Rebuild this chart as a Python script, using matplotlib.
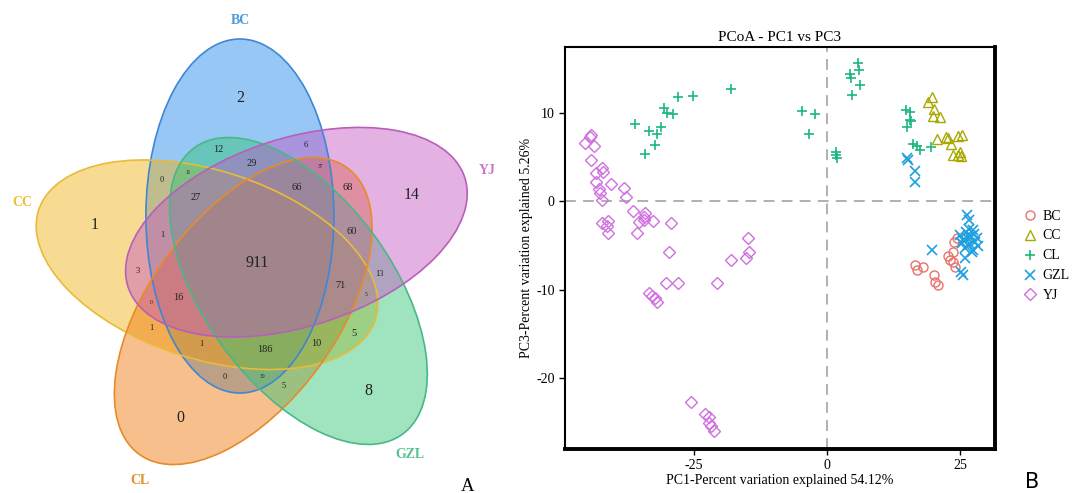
import numpy as np
import matplotlib
matplotlib.use("Agg")
import matplotlib.pyplot as plt
from matplotlib.patches import Ellipse

plt.rcParams["axes.unicode_minus"] = False

# ---------------- Venn data ----------------
set_names = ["BC", "YJ", "GZL", "CL", "CC"]
set_fill = ["#1987EB", "#C355C3", "#2DC373", "#ED7300", "#F1B111"]
set_edge = ["#3F86D6", "#B860B8", "#48B888", "#E88A2A", "#E8BB3A"]
label_color = ["#4A9AD8", "#C878C8", "#58C090", "#E0902A", "#F0C030"]
draw_order = [0, 4, 3, 2, 1]   # BC, CC, CL, GZL, YJ

# region counts (value, size-class)
venn_values = ["2", "12", "6", "29", "37", "0", "66", "68", "11", "27", "1", "14",
               "1", "60", "911", "3", "13", "71", "16", "0", "5", "1", "5", "1",
               "186", "10", "0", "30", "5", "8", "0"]
venn_size = ["L", "m", "s", "m", "t", "s", "m", "m", "t", "m", "L", "L",
             "s", "m", "L", "s", "s", "m", "m", "t", "t", "s", "m", "s",
             "m", "m", "s", "t", "s", "L", "L"]
venn_pos = [(240, 98), (218, 150), (306, 145), (252, 163), (320, 167), (162, 180),
            (297, 187), (348, 188), (188, 172), (196, 198), (95, 225), (412, 195),
            (162, 235), (352, 231), (257, 263), (138, 271), (380, 274), (341, 285),
            (178, 298), (151, 303), (366, 294), (151, 328), (354, 333), (201, 344),
            (265, 350), (316, 344), (225, 377), (263, 377), (284, 386), (368, 391),
            (180, 418)]

# ---------------- PCoA data ----------------
groups = ["BC", "CC", "CL", "GZL", "YJ"]
bc_x = [24.4, 23.9, 23.7, 22.8, 23.1, 23.7, 24.1, 16.5, 16.9, 18.1, 20.2, 20.4, 20.8]
bc_y = [-4.2, -4.6, -5.7, -6.2, -6.7, -6.9, -7.4, -7.2, -7.8, -7.4, -8.4, -9.1, -9.5]
cc_x = [19.8, 19.0, 20.1, 19.9, 21.2, 20.7, 22.3, 22.8, 23.3, 24.7, 25.4, 23.7, 24.7, 25.3, 25.0]
cc_y = [11.7, 11.2, 10.4, 9.6, 9.5, 7.0, 7.2, 7.1, 6.4, 7.3, 7.5, 5.2, 5.2, 5.1, 5.5]
cl_x = [-36.1, -34.2, -33.4, -32.3, -32.0, -31.1, -30.6, -30.1, -28.9, -28.0, -25.1, -18.1,
        -4.6, -2.3, -3.4, 1.8, 1.9, 1.7, 4.3, 5.9, 6.1, 4.6, 6.3, 4.8,
        14.8, 15.6, 15.7, 15.9, 15.0, 16.2, 17.5, 19.5, 16.9]
cl_y = [8.7, 5.3, 7.9, 6.3, 7.6, 8.4, 10.5, 10.0, 9.8, 11.8, 11.9, 12.7,
        10.2, 9.8, 7.6, 5.5, 4.9, 5.2, 14.4, 15.6, 14.8, 13.9, 13.1, 12.0,
        10.3, 10.1, 9.2, 9.0, 8.4, 6.4, 5.8, 6.1, 6.2]
gzl_x = [15.0, 15.3, 16.5, 16.5, 26.3, 26.7, 26.9, 25.0, 25.6, 26.1, 26.5, 27.1, 27.4,
         27.8, 28.2, 25.9, 27.3, 28.4, 25.4, 26.7, 27.6, 26.3, 26.9, 25.9, 25.3, 25.6,
         19.7, 27.5]
gzl_y = [4.9, 4.6, 3.4, 2.1, -1.6, -2.1, -4.2, -3.8, -4.4, -3.5, -5.0, -4.0, -3.3,
         -4.6, -4.2, -5.3, -5.8, -5.1, -4.7, -3.1, -3.7, -4.2, -4.9, -6.4, -8.0, -8.4,
         -5.5, -5.5]
yj_x = [-45.5, -44.4, -44.5, -43.8, -44.4, -43.3, -42.2, -42.0, -43.4, -42.9, -42.7, -42.3,
        -40.5, -38.1, -37.8, -42.3, -41.1, -41.3, -41.1, -36.4, -35.7, -35.3, -34.4, -34.4,
        -34.2, -32.7, -29.3, -29.6, -18.1, -15.1, -14.6, -14.8, -30.3, -28.0, -20.7,
        -33.4, -32.8, -32.3, -32.0, -25.6, -22.9, -22.2, -22.1, -21.8, -21.2]
yj_y = [6.6, 7.5, 7.2, 6.2, 4.6, 3.2, 3.7, 3.3, 2.1, 1.4, 0.9, 0.1,
        1.9, 1.5, 0.5, -2.5, -2.3, -2.8, -3.6, -1.1, -3.6, -2.4, -1.8, -2.1,
        -1.4, -2.3, -2.5, -5.7, -6.6, -6.4, -5.8, -4.2, -9.2, -9.3, -9.3,
        -10.4, -10.7, -10.9, -11.4, -22.7, -24.1, -24.4, -25.1, -25.4, -26.0]
x_ticks = [-25, 0, 25]
y_ticks = [-20, -10, 0, 10]

group_x = [bc_x, cc_x, cl_x, gzl_x, yj_x]
group_y = [bc_y, cc_y, cl_y, gzl_y, yj_y]
group_color = ["#E8736C", "#A8A800", "#1DB880", "#1EA0E0", "#D070E0"]
group_marker = ["o", "^", "+", "x", "D"]
group_ms = [6.5, 7.5, 7.5, 7.5, 6.3]

serif = "Liberation Serif"

W, H = 1075, 493
fig = plt.figure(figsize=(W / 100, H / 100), dpi=100)

# ---------------- Venn panel ----------------
axv = fig.add_axes([0, 0, 520 / W, 1])
axv.set_xlim(0, 520)
axv.set_ylim(493, 0)
axv.axis("off")

cx0, cy0, rad = 257, 263, 50
a2, b2 = 354, 188


def ell_geom(k):
    alpha_dir = np.deg2rad(110 - 72 * k)
    cx = cx0 + rad * np.cos(alpha_dir)
    cy = cy0 - rad * np.sin(alpha_dir)
    phi = 90 - 72 * k
    return (cx, cy), -phi


for k in draw_order:
    c, ang = ell_geom(k)
    axv.add_patch(Ellipse(c, a2, b2, angle=ang, facecolor=set_fill[k], alpha=0.45,
                          edgecolor="none", zorder=1))
for k in draw_order:
    c, ang = ell_geom(k)
    axv.add_patch(Ellipse(c, a2, b2, angle=ang, facecolor="none",
                          edgecolor=set_edge[k], lw=1.2, zorder=2))

label_pos = [(240, 20), (487, 170), (410, 455), (140, 480), (22, 203)]
for k in range(5):
    axv.text(*label_pos[k], set_names[k], color=label_color[k], fontsize=10,
             fontweight="bold", family=serif, ha="center", va="center")

size_map = {"L": 11.5, "m": 7.5, "s": 6, "t": 4}
for v, s, p in zip(venn_values, venn_size, venn_pos):
    axv.text(p[0], p[1], v, fontsize=size_map[s], family=serif, ha="center",
             va="center", color="#222222", zorder=3)

axv.text(468, 491, "A", fontsize=13.5, family=serif, ha="center", va="baseline")

# ---------------- PCoA panel ----------------
ax = fig.add_axes([565 / W, 1 - 449 / H, 430 / W, 402 / H])
for gx, gy, c, m, ms, name in zip(group_x, group_y, group_color, group_marker,
                                  group_ms, groups):
    if m in ("+", "x"):
        ax.plot(gx, gy, linestyle="none", marker=m, ms=ms, mew=1.2, color=c, label=name)
    else:
        ax.plot(gx, gy, linestyle="none", marker=m, ms=ms,
                mfc="none", mec=c, mew=1.0, label=name)

ax.axhline(0, color="#AAAAAA", lw=1.3, ls=(0, (6, 4)), zorder=0)
ax.axvline(0, color="#AAAAAA", lw=1.3, ls=(0, (6, 4)), zorder=0)
ax.set_xlim(-49.2, 31.6)
ax.set_ylim(-28.0, 17.4)
ax.set_xticks(x_ticks)
ax.set_yticks(y_ticks)
ax.tick_params(direction="out", length=4, width=1, labelsize=10)
for lab in ax.get_xticklabels() + ax.get_yticklabels():
    lab.set_family(serif)
for side in ["left", "top"]:
    ax.spines[side].set_linewidth(1.5)
for side in ["bottom", "right"]:
    ax.spines[side].set_linewidth(2.8)

ax.set_title("PCoA - PC1 vs PC3", family=serif, fontsize=11, pad=4)
ax.set_xlabel("PC1-Percent variation explained 54.12%", family=serif, fontsize=10)
ax.set_ylabel("PC3-Percent variation explained 5.26%", family=serif, fontsize=10)
ax.xaxis.set_label_coords(0.5, -0.063)
ax.yaxis.set_label_coords(-0.074, 0.5)

fig.legend(loc="upper left", bbox_to_anchor=(1016 / W, 1 - 204 / H), frameon=False,
           prop={"family": serif, "size": 10}, handletextpad=0.3, labelspacing=0.5,
           handlelength=1.2, borderaxespad=0)

fig.text(1032 / W, 1 - 482 / H, "B", fontsize=15, ha="center", va="center",
         family="DejaVu Sans")

fig.savefig("out.png", dpi=100)
